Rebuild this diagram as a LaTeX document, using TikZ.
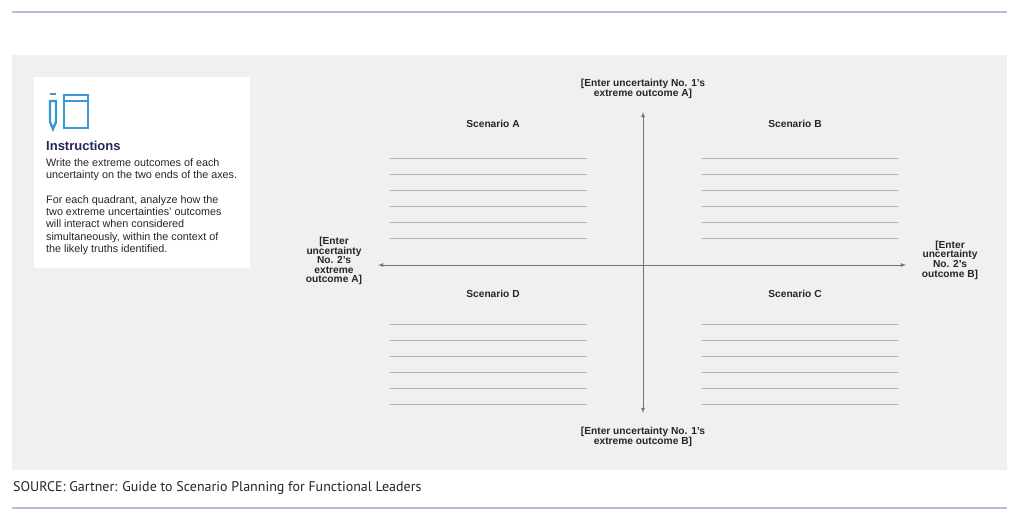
\documentclass[tikz,border=0pt]{standalone}
\usepackage{fontspec}
\setmainfont{Liberation Sans}
\newfontfamily\srcfont{PT Sans}
\begin{document}
\begin{tikzpicture}[x=1pt,y=-1pt,
  lbl/.style={font=\bfseries\fontsize{10.2}{9.6}\selectfont,align=center,text=black!85},
  wl/.style={draw=black!30,line width=0.7pt},
  ax/.style={draw=black!55,line width=0.8pt,<->,>=latex}]
\useasboundingbox (0,0) rectangle (1024,530);
\fill[white] (0,0) rectangle (1024,530);
\draw[line width=2pt,draw={rgb,255:red,178;green,188;blue,224}] (12,12) -- (1007,12);
\draw[line width=2pt,draw={rgb,255:red,178;green,188;blue,224}] (12,508) -- (1007,508);
\fill[black!6] (12,55) rectangle (1007,470);
\node[fill=white,minimum width=216pt,minimum height=191pt,anchor=north west,inner sep=0] (box) at (34,77) {};
% icon
\begin{scope}[draw={rgb,255:red,60;green,150;blue,215},line width=2.4pt]
\draw (50,101) -- (50,122) -- (53,129) -- (56,122) -- (56,101) -- cycle;
\draw (50,94) -- (56,94);
\draw (64,95) rectangle (88,128);
\draw (64,101) -- (88,101);
\end{scope}
\node[anchor=north west,font=\bfseries\fontsize{13}{13}\selectfont,text={rgb,255:red,35;green,40;blue,85},inner sep=0] (ins) at (46,141) {Instructions};
\node[anchor=north west,font=\fontsize{10.8}{12.4}\selectfont,align=left,text=black!85,inner sep=0] (t1) at (46,158) {Write the extreme outcomes of each\\uncertainty on the two ends of the axes.};
\node[anchor=north west,font=\fontsize{10.8}{12.4}\selectfont,align=left,text=black!85,inner sep=0] (t2) at (46,195) {For each quadrant, analyze how the\\two extreme uncertainties' outcomes\\will interact when considered\\simultaneously, within the context of\\the likely truths identified.};
% axes
\coordinate (top) at (643,112); \coordinate (bot) at (643,413);
\coordinate (lft) at (378,265); \coordinate (rgt) at (906,265);
\draw[ax] (top) -- (bot);
\draw[ax] (lft) -- (rgt);
\node[lbl] (lt) at (643,89) {[Enter uncertainty No. 1's\\extreme outcome A]};
\node[lbl] (lb) at (643,437) {[Enter uncertainty No. 1's\\extreme outcome B]};
\node[lbl] (ll) at (334,261) {[Enter\\uncertainty\\No. 2's\\extreme\\outcome A]};
\node[lbl] (lr) at (950,260) {[Enter\\uncertainty\\No. 2's\\outcome B]};
\node[lbl] (sa) at (493,124) {Scenario A};
\node[lbl] (sb) at (795,124) {Scenario B};
\node[lbl] (sd) at (493,294) {Scenario D};
\node[lbl] (sc) at (795,294) {Scenario C};
\foreach \y in {158,174,190,206,222,238} {
  \draw[wl] (390,\y) -- (587,\y); \draw[wl] (702,\y) -- (898,\y);}
\foreach \y in {324,340,356,372,388,404} {
  \draw[wl] (390,\y) -- (587,\y); \draw[wl] (702,\y) -- (898,\y);}
\node[anchor=west,font=\srcfont\fontsize{14}{16}\selectfont,text=black!85,inner sep=0] (src) at (13,488) {SOURCE: Gartner: Guide to Scenario Planning for Functional Leaders};
\end{tikzpicture}
\end{document}
